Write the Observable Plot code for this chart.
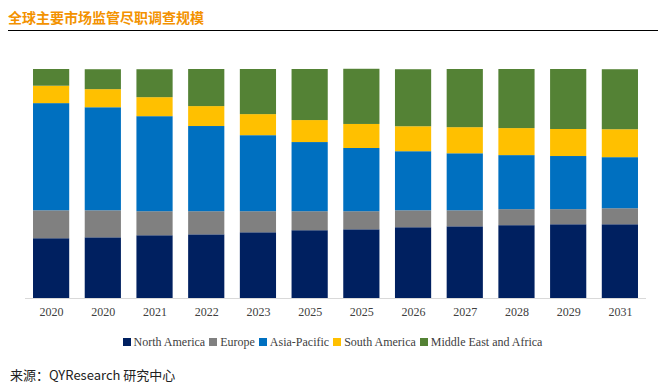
<!DOCTYPE html>
<html>
<head>
<meta charset="utf-8">
<script src="https://cdn.jsdelivr.net/npm/d3@7"></script>
<script src="https://cdn.jsdelivr.net/npm/@observablehq/plot@0.6"></script>
<style>
  html, body { margin: 0; padding: 0; background: #fff; }
  #wrap { position: relative; width: 665px; height: 386px; overflow: hidden; }
  #title { position: absolute; left: 8px; top: 7px; font-family: "Noto Sans CJK SC", sans-serif; font-weight: bold; font-size: 14px; color: #F39200; line-height: 20px; }
  #rule { position: absolute; left: 8px; top: 30px; width: 650px; height: 0; border-top: 1.5px solid #000; }
  #chart { position: absolute; left: 0; top: 50px; }
  #legend { position: absolute; left: 0; top: 334px; width: 665px; text-align: center; font-family: "Liberation Serif", "Times New Roman", serif; font-size: 12px; color: #404040; white-space: nowrap; line-height: 16px; }
  #legend span.item { margin: 0 2px; }
  #legend span.sw { display: inline-block; width: 8px; height: 8px; margin-right: 3px; vertical-align: 0px; }
  #source { position: absolute; left: 10px; top: 366px; font-family: "Noto Sans CJK SC", sans-serif; font-size: 13px; color: #222; line-height: 18px; }
</style>
</head>
<body>
<div id="wrap">
  <div id="title">全球主要市场监管尽职调查规模</div>
  <div id="rule"></div>
  <div id="chart"></div>
  <div id="legend"></div>
  <div id="source">来源：QYResearch 研究中心</div>
</div>
<script>
const years = ["2020", "2020", "2021", "2022", "2023", "2025", "2025", "2026", "2027", "2028", "2029", "2031"];
const regions = ["North America", "Europe", "Asia-Pacific", "South America", "Middle East and Africa"];
const colors = ["#002060", "#808080", "#0070C0", "#FFC000", "#548235"];
const northAmerica = [26.1, 26.5, 27.4, 27.8, 28.7, 29.6, 30.0, 30.9, 31.3, 31.8, 32.2, 32.2];
const europe       = [12.2, 11.8, 10.5, 10.1,  9.2,  8.3,  7.9,  7.4,  7.0,  7.0,  6.6,  7.0];
const asiaPacific  = [46.8, 45.0, 41.5, 37.2, 33.2, 30.2, 27.6, 25.8, 24.9, 23.6, 23.2, 22.3];
const southAmerica = [ 7.6,  7.9,  8.3,  8.7,  9.2,  9.6, 10.5, 10.9, 11.4, 11.8, 11.8, 12.2];
const middleEast   = [ 7.3,  8.7, 12.2, 16.2, 19.7, 22.3, 24.1, 24.9, 25.4, 25.8, 26.2, 26.2];

const series = [northAmerica, europe, asiaPacific, southAmerica, middleEast];
const data = [];
series.forEach((vals, s) => vals.forEach((v, i) => data.push({idx: i, region: regions[s], value: v})));

const chart = Plot.plot({
  width: 665,
  height: 275,
  marginLeft: 25,
  marginRight: 19,
  marginTop: 19,
  marginBottom: 27,
  style: { fontFamily: "'Liberation Serif', 'Times New Roman', serif", fontSize: "12px", color: "#404040", background: "transparent" },
  x: { domain: d3.range(years.length), round: false, paddingInner: 0.3, paddingOuter: 0.155, label: null, tickSize: 0, tickPadding: 9, tickFormat: i => years[i] },
  y: { domain: [0, 100], axis: null },
  color: { domain: regions, range: colors },
  marks: [
    Plot.barY(data, { x: "idx", y: "value", fill: "region", order: regions }),
    Plot.ruleY([0], { stroke: "#d9d9d9", strokeWidth: 1 })
  ]
});
document.getElementById("chart").appendChild(chart);

const legend = document.getElementById("legend");
regions.forEach((r, i) => {
  const item = document.createElement("span");
  item.className = "item";
  const sw = document.createElement("span");
  sw.className = "sw";
  sw.style.background = colors[i];
  item.appendChild(sw);
  item.appendChild(document.createTextNode(r));
  legend.appendChild(item);
});
</script>
</body>
</html>
